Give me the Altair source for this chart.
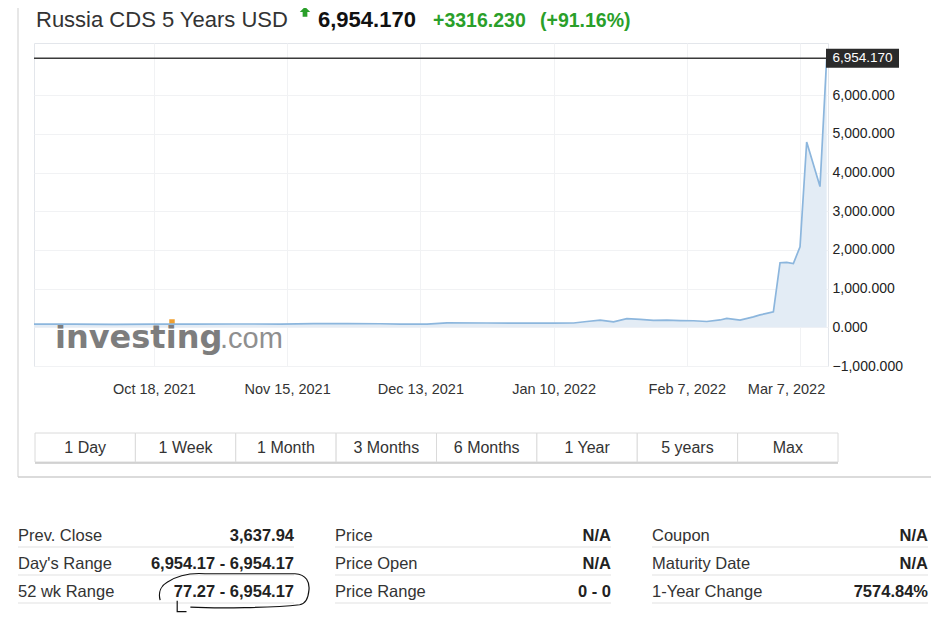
import altair as alt
import pandas as pd

# ---------------- data ----------------
# trading-session number (x) and CDS level (y)
session = [0, 6, 12, 18, 24, 30, 37, 42, 47, 52, 55, 59, 62, 68, 74, 78, 81, 83, 85, 87,
           89, 91, 93, 95, 97, 99, 101, 103, 104, 106, 108, 109, 110, 111, 112, 113, 114,
           115, 116, 118, 119]
cds = [80, 80, 78, 82, 84, 86, 85, 95, 98, 92, 85, 85, 115, 112, 110, 108, 112, 150, 185, 140,
       225, 205, 180, 185, 175, 170, 150, 190, 230, 185, 270, 320, 360, 400, 1670, 1680, 1650,
       2080, 4790, 3637.94, 6954.17]

tick_sessions = [18, 38, 58, 78, 98, 115]
tick_labels = ["Oct 18, 2021", "Nov 15, 2021", "Dec 13, 2021", "Jan 10, 2022", "Feb 7, 2022", "Mar 7, 2022"]
y_ticks = [-1000, 0, 1000, 2000, 3000, 4000, 5000, 6000]

title_name = "Russia CDS 5 Years USD"
last_price = 6954.17
change = 3316.23
change_pct = 91.16

buttons = ["1 Day", "1 Week", "1 Month", "3 Months", "6 Months", "1 Year", "5 years", "Max"]

table_labels = [["Prev. Close", "Day's Range", "52 wk Range"],
                ["Price", "Price Open", "Price Range"],
                ["Coupon", "Maturity Date", "1-Year Change"]]
table_values = [["3,637.94", "6,954.17 - 6,954.17", "77.27 - 6,954.17"],
                ["N/A", "N/A", "0 - 0"],
                ["N/A", "N/A", "7574.84%"]]

# ---------------- frames ----------------
df = pd.DataFrame({"session": session, "cds": cds})
last_df = df.tail(1)
btn_df = pd.DataFrame({"i": list(range(len(buttons))), "label": buttons})
tbl_rows = []
for c, (labs, vals) in enumerate(zip(table_labels, table_values)):
    for r, (lab, val) in enumerate(zip(labs, vals)):
        tbl_rows.append({"col": c, "row": r, "label": lab, "value": val})
tbl_df = pd.DataFrame(tbl_rows)
one = pd.DataFrame({"k": [0]})

W, H = 794, 323
FONT = "Liberation Sans"
GREEN = "#2a9f2a"

label_expr = "".join(f"datum.value == {s} ? '{l}' : " for s, l in zip(tick_sessions, tick_labels)) + "''"

xs = alt.Scale(domain=[0, 119.2], nice=False, zero=False)
ys = alt.Scale(domain=[-1000, 7350], nice=False, zero=False)

area = alt.Chart(df).mark_area(color="#e3ecf5", opacity=1).encode(
    x=alt.X("session:Q", scale=xs, title=None,
            axis=alt.Axis(values=tick_sessions, labelExpr=label_expr, grid=True,
                          gridColor="#f1f2f4", domain=False, ticks=False,
                          labelPadding=16, labelFontSize=14.5, labelColor="#333",
                          labelFont=FONT,
                          labelOffset=alt.expr(f"datum.value == {tick_sessions[-1]} ? -14 : 0"))),
    y=alt.Y("cds:Q", scale=ys, title=None,
            axis=alt.Axis(orient="right", values=y_ticks, format=",.3f", grid=True,
                          gridColor="#f1f2f4", domain=False, ticks=False,
                          labelPadding=4, labelFontSize=14, labelColor="#222",
                          labelFont=FONT)),
    y2=alt.datum(0),
)

logo1 = alt.Chart(one).mark_text(align="left", baseline="alphabetic", font="DejaVu Sans",
                                 fontWeight="bold", fontSize=32, color="#7d7d7d").encode(
    x=alt.value(21), y=alt.value(305), text=alt.value("investing"))
logo2 = alt.Chart(one).mark_text(align="left", baseline="alphabetic", font=FONT,
                                 fontSize=29, color="#8f8f8f").encode(
    x=alt.value(186), y=alt.value(305), text=alt.value(".com"))
logo_dot = alt.Chart(one).mark_point(shape="square", filled=True, color="#f0a030",
                                     size=30, opacity=1).encode(
    x=alt.value(138), y=alt.value(279))

line = alt.Chart(df).mark_line(color="#8cb6dd", strokeWidth=1.7).encode(
    x=alt.X("session:Q", scale=xs), y=alt.Y("cds:Q", scale=ys))

price_rule = alt.Chart(last_df).mark_rule(color="#3a3a3a", strokeWidth=1.5).encode(
    y=alt.Y("cds:Q", scale=ys))
price_box = alt.Chart(last_df).mark_point(
    shape="M-1,-0.26 L1,-0.26 L1,0.26 L-1,0.26 Z", size=73 * 73, filled=True,
    color="#2a2a2a", opacity=1, strokeWidth=0).encode(
    x=alt.value(828.5), y=alt.Y("cds:Q", scale=ys))
price_txt = alt.Chart(last_df).mark_text(color="white", fontSize=13.5, font=FONT,
                                         baseline="middle").encode(
    x=alt.value(828.5), y=alt.Y("cds:Q", scale=ys), text=alt.Text("cds:Q", format=",.3f"))

main = alt.layer(area, logo1, logo2, logo_dot, line, price_rule, price_box, price_txt)

# title row
t1 = alt.Chart(one).mark_text(align="left", baseline="alphabetic", font=FONT, fontSize=22,
                              color="#333").encode(
    x=alt.value(2), y=alt.value(-16), text=alt.value(title_name))
arrow = alt.Chart(one).mark_point(
    shape="M0,-1 L1,0 L0.45,0 L0.45,0.9 L-0.45,0.9 L-0.45,0 L-1,0 Z", size=110,
    filled=True, color=GREEN, opacity=1, strokeWidth=0).encode(
    x=alt.value(271), y=alt.value(-31))
t2 = alt.Chart(one).mark_text(align="left", baseline="alphabetic", font=FONT, fontSize=22,
                              fontWeight="bold", color="#111").encode(
    x=alt.value(284), y=alt.value(-16), text=alt.value(f"{last_price:,.3f}"))
t3 = alt.Chart(one).mark_text(align="left", baseline="alphabetic", font=FONT, fontSize=19.5,
                              fontWeight="bold", color=GREEN).encode(
    x=alt.value(399), y=alt.value(-16), text=alt.value(f"+{change:.3f}"))
t4 = alt.Chart(one).mark_text(align="left", baseline="alphabetic", font=FONT, fontSize=19.5,
                              fontWeight="bold", color=GREEN).encode(
    x=alt.value(506), y=alt.value(-16), text=alt.value(f"(+{change_pct:.2f}%)"))

# panel border
border_l = alt.Chart(one).mark_rule(color="#cfcfcf", strokeWidth=1).encode(
    x=alt.value(-16), y=alt.value(-43), y2=alt.value(434))
border_b = alt.Chart(one).mark_rule(color="#cfcfcf", strokeWidth=1.5).encode(
    x=alt.value(-16), x2=alt.value(903), y=alt.value(434))

# buttons
bx = alt.Scale(domain=[0, 8], range=[1, 804], nice=False, zero=False)
btn_rect = alt.Chart(btn_df).transform_calculate(i2="datum.i + 1").mark_rect(
    fill="white", stroke="#dadada", strokeWidth=1).encode(
    x=alt.X("i:Q", scale=bx, axis=None), x2="i2:Q",
    y=alt.value(390), y2=alt.value(419))
btn_txt = alt.Chart(btn_df).transform_calculate(mid="datum.i + 0.5").mark_text(
    font=FONT, fontSize=16, color="#333", baseline="alphabetic").encode(
    x=alt.X("mid:Q", scale=bx, axis=None), y=alt.value(410), text="label:N")
btn_shadow = alt.Chart(one).mark_rule(color="#c8c8c8", strokeWidth=1.5).encode(
    x=alt.value(1), x2=alt.value(804), y=alt.value(420))
buttons_layer = alt.layer(btn_rect, btn_txt)

# stats table
tx = alt.Scale(domain=[0, 2], range=[-16, 618], nice=False, zero=False)
ty = alt.Scale(domain=[0, 2], range=[498, 554], nice=False, zero=False)
tbl_sep = alt.Chart(tbl_df).mark_rule(color="#e2e2e2", strokeWidth=1.2, yOffset=6,
                                      x2Offset=276).encode(
    x=alt.X("col:Q", scale=tx, axis=None), x2="col:Q",
    y=alt.Y("row:Q", scale=ty, axis=None))
tbl_lab = alt.Chart(tbl_df).mark_text(align="left", baseline="alphabetic", font=FONT,
                                      fontSize=16.5, color="#333").encode(
    x=alt.X("col:Q", scale=tx, axis=None), y=alt.Y("row:Q", scale=ty, axis=None),
    text="label:N")
tbl_val = alt.Chart(tbl_df).mark_text(align="right", baseline="alphabetic", font=FONT,
                                      fontSize=16.5, fontWeight="bold", color="#222",
                                      dx=276).encode(
    x=alt.X("col:Q", scale=tx, axis=None), y=alt.Y("row:Q", scale=ty, axis=None),
    text="value:N")
table_layer = alt.layer(tbl_sep, tbl_lab, tbl_val)

circle = alt.Chart(one).mark_point(
    shape=("M-0.94,0.13 C-0.97,0.02 -0.92,-0.06 -0.85,-0.1 C-0.7,-0.2 -0.5,-0.22 -0.36,-0.21 "
           "L0.8,-0.21 C0.95,-0.2 0.99,-0.1 0.98,0 C0.97,0.12 0.93,0.18 0.86,0.19 "
           "C0.5,0.23 -0.2,0.24 -0.55,0.22 M-0.72,0.14 L-0.72,0.28 L-0.6,0.28"),
    size=155 * 155, filled=False, color="#111", strokeWidth=1.2, opacity=1).encode(
    x=alt.value(199), y=alt.value(547))

chart = alt.layer(
    main, t1, arrow, t2, t3, t4, border_l, border_b,
    buttons_layer, btn_shadow, table_layer, circle
).resolve_scale(x="independent", y="independent").properties(
    width=W, height=H,
    autosize=alt.AutoSizeParams(type="none"),
    padding={"left": 26, "top": 35, "right": 103, "bottom": 261},
    background="white",
).configure_view(stroke="#e3e6eb", strokeWidth=1)

chart.save("out.html", embed_options={"renderer": "svg", "actions": False})
